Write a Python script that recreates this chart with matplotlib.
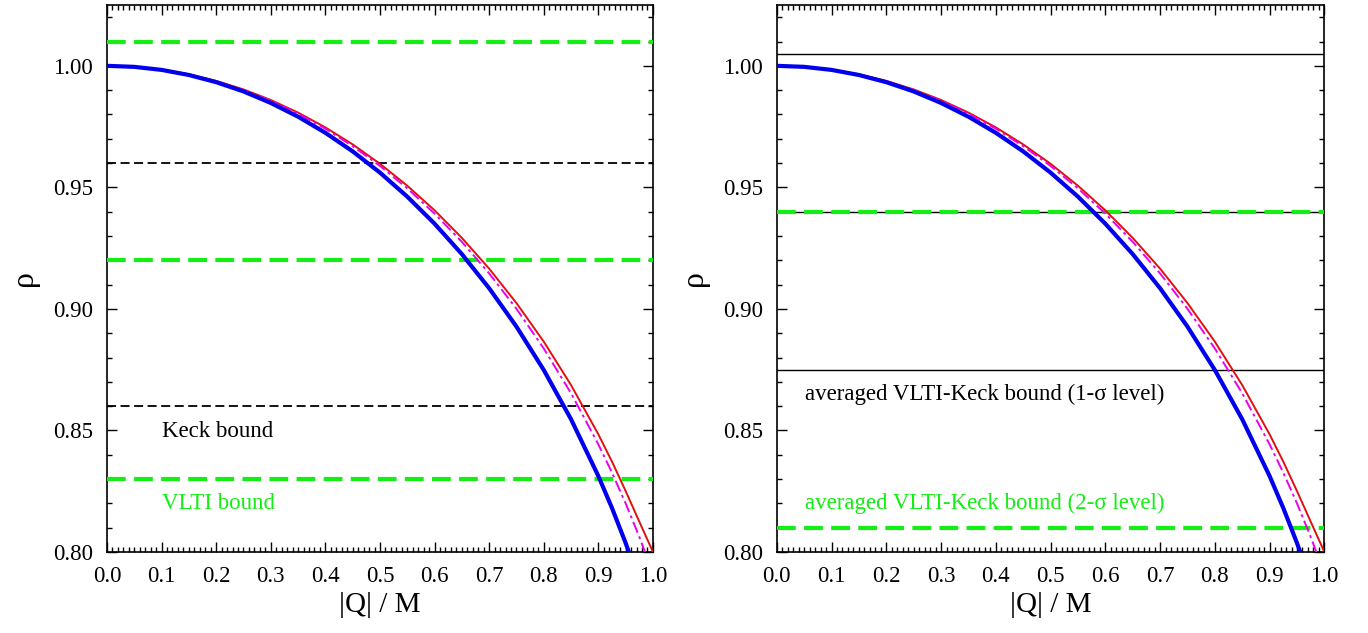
import matplotlib
matplotlib.use("Agg")
import matplotlib.pyplot as plt
from matplotlib.ticker import MultipleLocator, FormatStrFormatter

plt.rcParams['font.family'] = ['Liberation Serif', 'DejaVu Serif']

# |Q|/M grid and shadow-size curves
q = [0.0, 0.05, 0.10, 0.15, 0.20, 0.25, 0.30, 0.35, 0.40, 0.45, 0.50,
     0.55, 0.60, 0.65, 0.70, 0.75, 0.80, 0.85, 0.90, 0.925, 0.95, 0.975, 1.0]
rho_blue = [1.0, 0.99958, 0.99833, 0.99623, 0.99328, 0.98947, 0.98473, 0.97908,
            0.97245, 0.96481, 0.95607, 0.94619, 0.93506, 0.92255, 0.90850,
            0.89271, 0.87487, 0.85460, 0.83124, 0.81808, 0.80370, 0.78778, 0.770]
rho_magenta = [1.0, 0.99961, 0.99843, 0.99646, 0.99368, 0.99009, 0.98565, 0.98034,
               0.97413, 0.96697, 0.95882, 0.94959, 0.93921, 0.92760, 0.91460,
               0.90005, 0.88371, 0.86529, 0.84428, 0.83261, 0.81999, 0.80625, 0.79110]
rho_red = [1.0, 0.99962, 0.99846, 0.99653, 0.99381, 0.99029, 0.98595, 0.98076,
           0.97468, 0.96768, 0.95971, 0.95068, 0.94056, 0.92923, 0.91656,
           0.90240, 0.88654, 0.86867, 0.84840, 0.83717, 0.82506, 0.81250, 0.80000]

# bounds
keck_left = [0.96, 0.86]
vlti_left = [1.01, 0.92, 0.83]
avg_1sigma = [1.005, 0.94, 0.875]
avg_2sigma = [0.94, 0.81]

green = '#14ee14'

fig = plt.figure(figsize=(13.68, 6.33), dpi=100)
ax1 = fig.add_axes([0.0782, 0.128, 0.3991, 0.864])
ax2 = fig.add_axes([0.5678, 0.128, 0.4003, 0.864])


def draw_curves(ax):
    ax.plot(q, rho_red, color='#e01010', lw=1.4, zorder=5)
    ax.plot(q, rho_magenta, color='#ee00ee', lw=1.4, dashes=(6, 2, 1.5, 2), zorder=5)
    ax.plot(q, rho_blue, color='#0000ee', lw=3.0, zorder=6)


def style(ax):
    ax.set_xlim(0, 1)
    ax.set_ylim(0.80, 1.025)
    ax.xaxis.set_major_locator(MultipleLocator(0.1))
    ax.xaxis.set_minor_locator(MultipleLocator(0.01))
    ax.yaxis.set_major_locator(MultipleLocator(0.05))
    ax.yaxis.set_minor_locator(MultipleLocator(0.01))
    ax.xaxis.set_major_formatter(FormatStrFormatter('%.1f'))
    ax.yaxis.set_major_formatter(FormatStrFormatter('%.2f'))
    ax.tick_params(which='both', direction='in', top=True, right=True,
                   labelsize=16.5, width=1.0)
    ax.tick_params(which='major', length=7)
    ax.tick_params(which='minor', length=3.5)
    ax.tick_params(axis='x', which='major', pad=10)
    ax.tick_params(axis='y', which='major', pad=10)
    for s in ax.spines.values():
        s.set_linewidth(1.2)
    ax.set_xlabel('|Q| / M', fontsize=21, labelpad=4)
    ax.set_ylabel('ρ', fontsize=23, labelpad=10)


for y in keck_left:
    ax1.axhline(y, color='black', lw=1.3, dashes=(5, 2.5), zorder=2)
for y in vlti_left:
    ax1.axhline(y, color=green, lw=3.0, dashes=(4.5, 2), zorder=3)
draw_curves(ax1)
style(ax1)
ax1.text(0.10, 0.8494, 'Keck bound', fontsize=16.5, va='center', color='black')
ax1.text(0.10, 0.8198, 'VLTI bound', fontsize=16.5, va='center', color=green)

for y in avg_1sigma:
    ax2.axhline(y, color='black', lw=1.0, zorder=2)
for y in avg_2sigma:
    ax2.axhline(y, color=green, lw=3.0, dashes=(4.5, 2), zorder=3)
draw_curves(ax2)
style(ax2)
ax2.text(0.052, 0.865, 'averaged VLTI-Keck bound (1-σ level)', fontsize=16.5,
         va='center', color='black')
ax2.text(0.052, 0.8198, 'averaged VLTI-Keck bound (2-σ level)', fontsize=16.5,
         va='center', color=green)

fig.savefig('out.png', dpi=100)
